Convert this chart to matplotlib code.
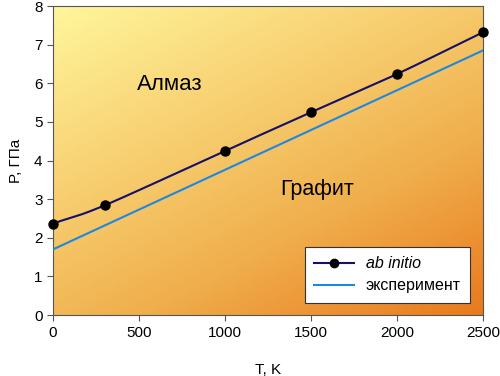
import numpy as np
import matplotlib
matplotlib.use("Agg")
from matplotlib import pyplot
from matplotlib.colors import LinearSegmentedColormap

# ab initio points (T in K, P in GPa)
T_calc = [0, 300, 1000, 1500, 2000, 2500]
P_calc = [2.37, 2.84, 4.25, 5.25, 6.24, 7.32]

# experimental line end points
T_exp = [0, 2500]
P_exp = [1.70, 6.85]

pyplot.rcParams['font.family'] = ['Liberation Sans', 'DejaVu Sans']


def smooth(x, y, n=30):
    # Catmull-Rom style smoothing, like a spreadsheet "smoothed line"
    x = np.asarray(x, float)
    y = np.asarray(y, float)
    px = np.concatenate([[2 * x[0] - x[1]], x, [2 * x[-1] - x[-2]]])
    py = np.concatenate([[2 * y[0] - y[1]], y, [2 * y[-1] - y[-2]]])
    xs, ys = [], []
    t = np.linspace(0, 1, n)
    for i in range(1, len(px) - 2):
        p0, p1, p2, p3 = [np.array([px[k], py[k]]) for k in range(i - 1, i + 3)]
        m1 = (p2 - p0) / 6
        m2 = (p3 - p1) / 6
        b = [p1, p1 + m1, p2 - m2, p2]
        c = ((1 - t) ** 3)[:, None] * b[0] + (3 * (1 - t) ** 2 * t)[:, None] * b[1] \
            + (3 * (1 - t) * t ** 2)[:, None] * b[2] + (t ** 3)[:, None] * b[3]
        xs.extend(c[:, 0])
        ys.extend(c[:, 1])
    return xs, ys


fig = pyplot.figure(figsize=(5.0, 3.76), dpi=100)
ax = fig.add_axes([0.106, 0.162, 0.86, 0.822])

# diagonal gradient background
cmap = LinearSegmentedColormap.from_list(
    "bg", ["#fff69c", "#f8d274", "#f0ae4c", "#e97a1e"])
gx, gy = np.meshgrid(np.linspace(0, 1, 200), np.linspace(0, 1, 200))
grad = 0.42 * gx + 0.58 * gy
ax.imshow(grad, cmap=cmap, extent=[0, 2500, 0, 8], aspect="auto",
          origin="upper", zorder=0, interpolation="bilinear")

sx, sy = smooth(T_calc, P_calc)
ax.plot(sx, sy, color="#15106a", lw=1.5, zorder=3)
ax.plot(T_calc, P_calc, "o", color="black", ms=6.5, zorder=4, clip_on=False)
ax.plot(T_exp, P_exp, color="#1e88e0", lw=1.5, zorder=3)

# legend proxies
l1, = ax.plot([], [], color="#15106a", lw=1.5, marker="o", mfc="black",
              mec="black", ms=6)
l2, = ax.plot([], [], color="#1e88e0", lw=1.5)
leg = ax.legend([l1, l2], ["ab initio", "эксперимент"], loc="lower right",
                bbox_to_anchor=(0.97, 0.039), borderaxespad=0, fontsize=11.5,
                fancybox=False, framealpha=1, edgecolor="#333333",
                handlelength=2.5, borderpad=0.6, labelspacing=0.45,
                handletextpad=0.7)
leg.get_texts()[0].set_style("italic")
leg.get_frame().set_linewidth(0.8)

ax.text(680, 5.96, "Алмаз", fontsize=16, ha="center", va="center")
ax.text(1533, 3.24, "Графит", fontsize=15.5, ha="center", va="center")

ax.set_xlim(0, 2500)
ax.set_ylim(0, 8)
ax.set_xticks(range(0, 2501, 500))
ax.set_yticks(range(0, 9))
ax.tick_params(direction="out", length=4, width=0.8, labelsize=11,
               color="#555555")
for s in ax.spines.values():
    s.set_color("#555555")
    s.set_linewidth(0.8)
ax.set_xlabel("T, K", fontsize=11, labelpad=17)
ax.set_ylabel("P, ГПа", fontsize=11, labelpad=8)

fig.savefig("out.png", dpi=100)
